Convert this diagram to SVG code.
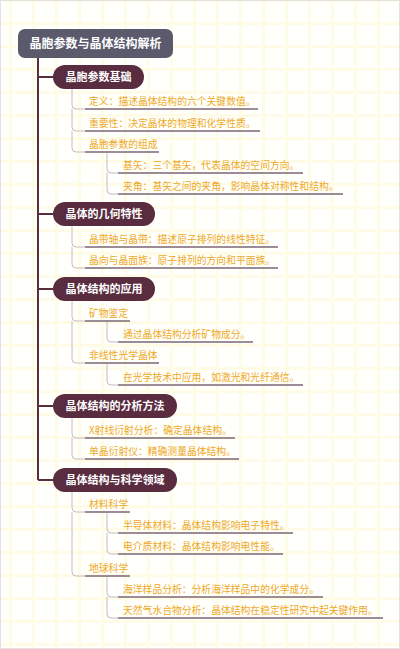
<svg xmlns="http://www.w3.org/2000/svg" width="400" height="649" viewBox="0 0 400 649">
<defs>
<pattern id="grid" x="9" y="-1" width="23" height="23" patternUnits="userSpaceOnUse">
<rect width="23" height="23" fill="#fffffb"/>
<rect x="0" y="0" width="3" height="23" fill="#fefbe6"/>
<rect x="0" y="0" width="23" height="3" fill="#fefbe6"/>
</pattern>
<style>
.root{fill:#5a5a6c}
.rootT{fill:#ffffff;font-family:"Noto Sans CJK SC","Noto Sans",sans-serif;font-size:12px;font-weight:bold}
.l1{fill:#5a2c40}
.l1T{fill:#ffffff;font-family:"Noto Sans CJK SC","Noto Sans",sans-serif;font-size:11px;font-weight:bold}
.t{fill:#eea928;font-family:"Noto Sans CJK SC","Noto Sans",sans-serif;font-size:9.8px}
.ul{stroke:#7a6676;stroke-width:1.5;fill:none}
.trunk{stroke:#5a2c40;stroke-width:2;fill:none}
.br{stroke:#c8bac2;stroke-width:1;fill:none}
</style>
</defs>
<rect width="400" height="649" fill="url(#grid)"/>
<rect x="0.5" y="0.5" width="399" height="648" fill="none" stroke="#e2e2e2" stroke-width="1"/>

<g id="connectors">
<path class="trunk" d="M38,58 V480 M38,77 H53 M38,214 H53 M38,289 H53 M38,406 H53 M38,480 H53"/>
<path class="br" d="M72,89 V105 Q72,109 76,109 H85 M72,109 V127 Q72,131 76,131 H85 M72,131 V148 Q72,152 76,152 H85"/>
<path class="br" d="M107,152 V169 Q107,173 111,173 H118 M107,173 V190 Q107,194 111,194 H118"/>
<path class="br" d="M72,226 V243 Q72,247 76,247 H85 M72,247 V264 Q72,268 76,268 H85"/>
<path class="br" d="M72,301 V317 Q72,321 76,321 H85 M72,321 V359 Q72,363 76,363 H85"/>
<path class="br" d="M107,321 V338 Q107,342 111,342 H118 M107,363 V381 Q107,385 111,385 H118"/>
<path class="br" d="M72,418 V434 Q72,438 76,438 H85 M72,438 V455 Q72,459 76,459 H85"/>
<path class="br" d="M72,492 V508 Q72,512 76,512 H85 M72,512 V572 Q72,576 76,576 H85"/>
<path class="br" d="M107,512 V529 Q107,533 111,533 H118 M107,533 V550 Q107,554 111,554 H118"/>
<path class="br" d="M107,576 V593 Q107,597 111,597 H118 M107,597 V614 Q107,618 111,618 H118"/>
</g>

<g id="root">
<rect class="root" x="18" y="29" width="155" height="29" rx="7"/>
<text class="rootT" x="95.5" y="48" text-anchor="middle">晶胞参数与晶体结构解析</text>
</g>

<g id="n1">
<rect class="l1" x="53" y="65" width="91" height="24" rx="12"/>
<text class="l1T" x="98.5" y="81" text-anchor="middle">晶胞参数基础</text>
</g>
<g id="n1a"><text class="t" x="89" y="105">定义：描述晶体结构的六个关键数值。</text><line class="ul" x1="85" y1="109" x2="258" y2="109"/></g>
<g id="n1b"><text class="t" x="89" y="127">重要性：决定晶体的物理和化学性质。</text><line class="ul" x1="85" y1="131" x2="260" y2="131"/></g>
<g id="n1c"><text class="t" x="89" y="148">晶胞参数的组成</text><line class="ul" x1="85" y1="152" x2="159" y2="152"/></g>
<g id="n1c1"><text class="t" x="123" y="169">基矢：三个基矢，代表晶体的空间方向。</text><line class="ul" x1="118" y1="173" x2="303" y2="173"/></g>
<g id="n1c2"><text class="t" x="123" y="190">夹角：基矢之间的夹角，影响晶体对称性和结构。</text><line class="ul" x1="118" y1="194" x2="343" y2="194"/></g>

<g id="n2">
<rect class="l1" x="53" y="202" width="102" height="24" rx="12"/>
<text class="l1T" x="104" y="218" text-anchor="middle">晶体的几何特性</text>
</g>
<g id="n2a"><text class="t" x="89" y="243">晶带轴与晶带：描述原子排列的线性特征。</text><line class="ul" x1="85" y1="247" x2="278" y2="247"/></g>
<g id="n2b"><text class="t" x="89" y="264">晶向与晶面族：原子排列的方向和平面族。</text><line class="ul" x1="85" y1="268" x2="278" y2="268"/></g>

<g id="n3">
<rect class="l1" x="53" y="277" width="102" height="24" rx="12"/>
<text class="l1T" x="104" y="293" text-anchor="middle">晶体结构的应用</text>
</g>
<g id="n3a"><text class="t" x="89" y="317">矿物鉴定</text><line class="ul" x1="85" y1="321" x2="130" y2="321"/></g>
<g id="n3a1"><text class="t" x="123" y="338">通过晶体结构分析矿物成分。</text><line class="ul" x1="118" y1="342" x2="253" y2="342"/></g>
<g id="n3b"><text class="t" x="89" y="359">非线性光学晶体</text><line class="ul" x1="85" y1="363" x2="159" y2="363"/></g>
<g id="n3b1"><text class="t" x="123" y="381">在光学技术中应用，如激光和光纤通信。</text><line class="ul" x1="118" y1="385" x2="303" y2="385"/></g>

<g id="n4">
<rect class="l1" x="53" y="394" width="124" height="24" rx="12"/>
<text class="l1T" x="115" y="410" text-anchor="middle">晶体结构的分析方法</text>
</g>
<g id="n4a"><text class="t" x="89" y="434">X射线衍射分析：确定晶体结构。</text><line class="ul" x1="85" y1="438" x2="235" y2="438"/></g>
<g id="n4b"><text class="t" x="89" y="455">单晶衍射仪：精确测量晶体结构。</text><line class="ul" x1="85" y1="459" x2="239" y2="459"/></g>

<g id="n5">
<rect class="l1" x="53" y="468" width="124" height="24" rx="12"/>
<text class="l1T" x="115" y="484" text-anchor="middle">晶体结构与科学领域</text>
</g>
<g id="n5a"><text class="t" x="89" y="508">材料科学</text><line class="ul" x1="85" y1="512" x2="130" y2="512"/></g>
<g id="n5a1"><text class="t" x="123" y="529">半导体材料：晶体结构影响电子特性。</text><line class="ul" x1="118" y1="533" x2="293" y2="533"/></g>
<g id="n5a2"><text class="t" x="123" y="550">电介质材料：晶体结构影响电性能。</text><line class="ul" x1="118" y1="554" x2="283" y2="554"/></g>
<g id="n5b"><text class="t" x="89" y="572">地球科学</text><line class="ul" x1="85" y1="576" x2="130" y2="576"/></g>
<g id="n5b1"><text class="t" x="123" y="593">海洋样品分析：分析海洋样品中的化学成分。</text><line class="ul" x1="118" y1="597" x2="323" y2="597"/></g>
<g id="n5b2"><text class="t" x="123" y="614">天然气水合物分析：晶体结构在稳定性研究中起关键作用。</text><line class="ul" x1="118" y1="618" x2="383" y2="618"/></g>
</svg>
